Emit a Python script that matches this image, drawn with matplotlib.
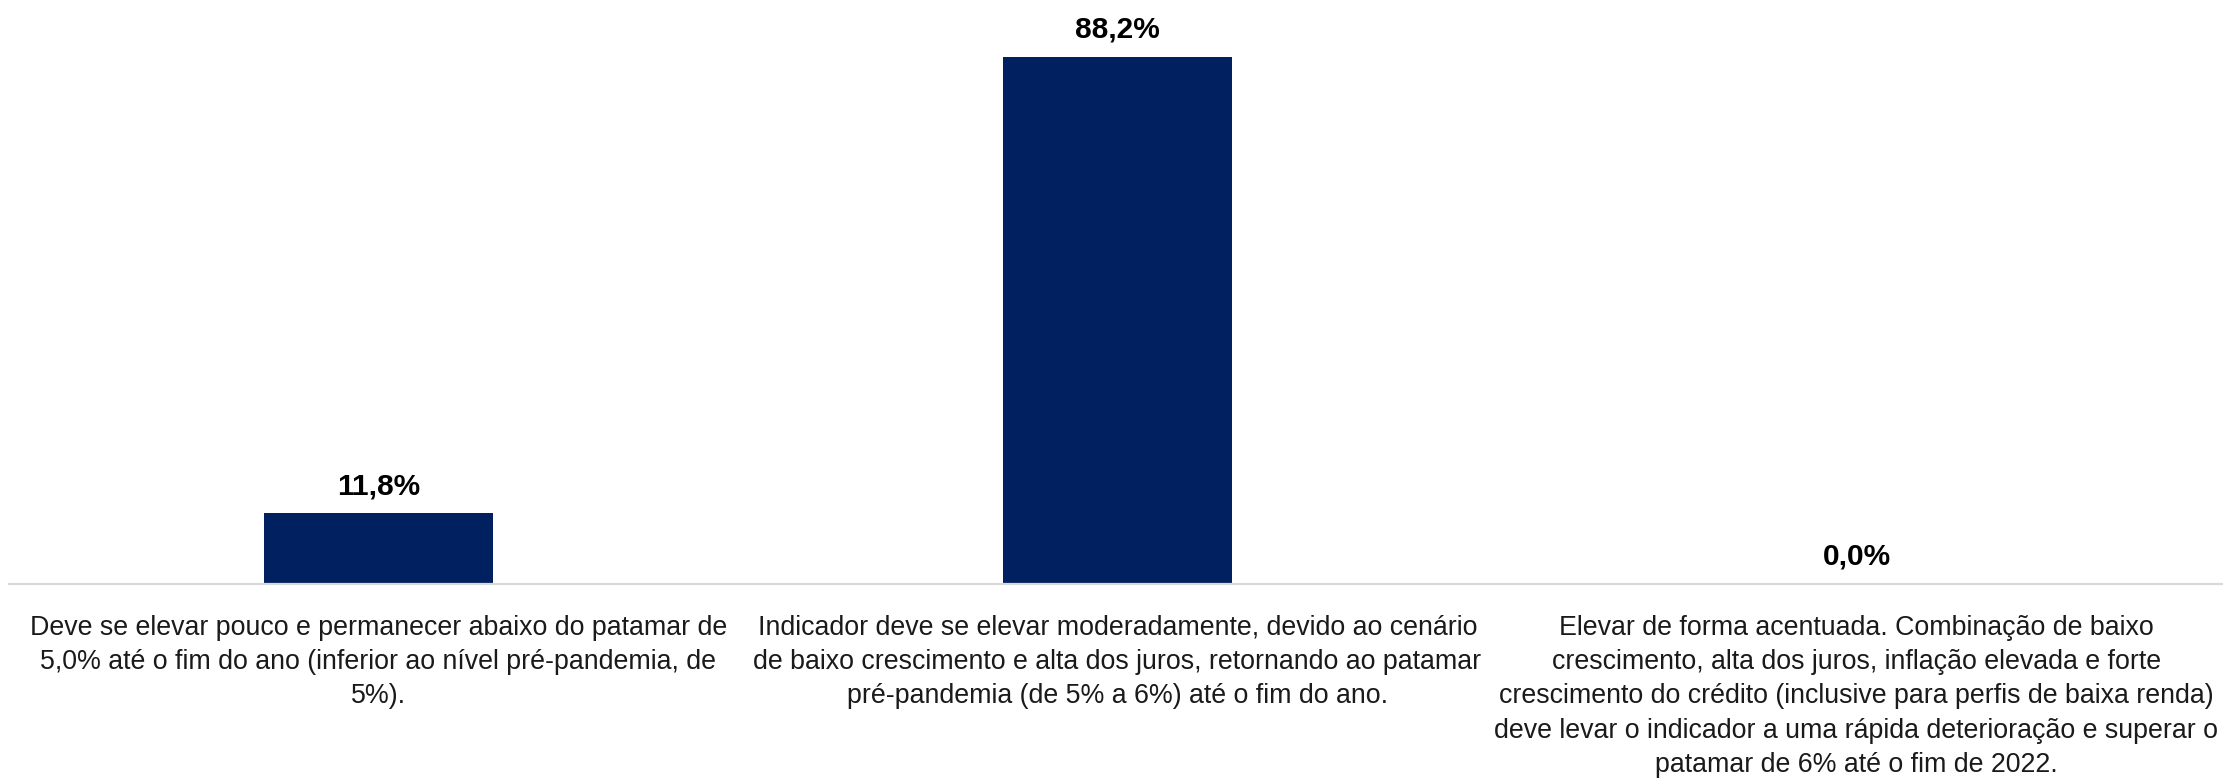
import matplotlib
matplotlib.use("Agg")
import matplotlib.pyplot as plt
from matplotlib import font_manager

# survey answers and share of respondents (%)
categories = [
    "Deve se elevar pouco e permanecer abaixo do patamar de\n"
    "5,0% até o fim do ano (inferior ao nível pré-pandemia, de\n"
    "5%).",
    "Indicador deve se elevar moderadamente, devido ao cenário\n"
    "de baixo crescimento e alta dos juros, retornando ao patamar\n"
    "pré-pandemia (de 5% a 6%) até o fim do ano.",
    "Elevar de forma acentuada. Combinação de baixo\n"
    "crescimento, alta dos juros, inflação elevada e forte\n"
    "crescimento do crédito (inclusive para perfis de baixa renda)\n"
    "deve levar o indicador a uma rápida deterioração e superar o\n"
    "patamar de 6% até o fim de 2022.",
]
shares = [11.8, 88.2, 0.0]

names = {f.name for f in font_manager.fontManager.ttflist}
family = "Liberation Sans Narrow" if "Liberation Sans Narrow" in names else "Liberation Sans"
plt.rcParams["font.family"] = [family, "DejaVu Sans"]

fig = plt.figure(figsize=(22.23, 7.81), dpi=100)
ax = fig.add_axes([9 / 2223, 197 / 781, 2217 / 2223, 584 / 781])

x = list(range(len(shares)))
ax.bar(x, shares, width=0.31, color="#002060")

for xi, v in zip(x, shares):
    ax.text(xi, v + 2.2, f"{v:.1f}%".replace(".", ","), ha="center", va="bottom",
            fontsize=21.5, fontweight="bold", color="black")

ax.set_xlim(-0.5, 2.5)
ax.set_ylim(0, 97.7)
ax.set_xticks(x)
ax.set_xticklabels(categories, fontsize=19.3, linespacing=1.42, color="#1a1a1a")
ax.tick_params(axis="x", length=0, pad=22)
ax.set_yticks([])

for side in ["top", "left", "right"]:
    ax.spines[side].set_visible(False)
ax.spines["bottom"].set_color("#d9d9d9")
ax.spines["bottom"].set_linewidth(1.6)

fig.savefig("out.png", dpi=100)
